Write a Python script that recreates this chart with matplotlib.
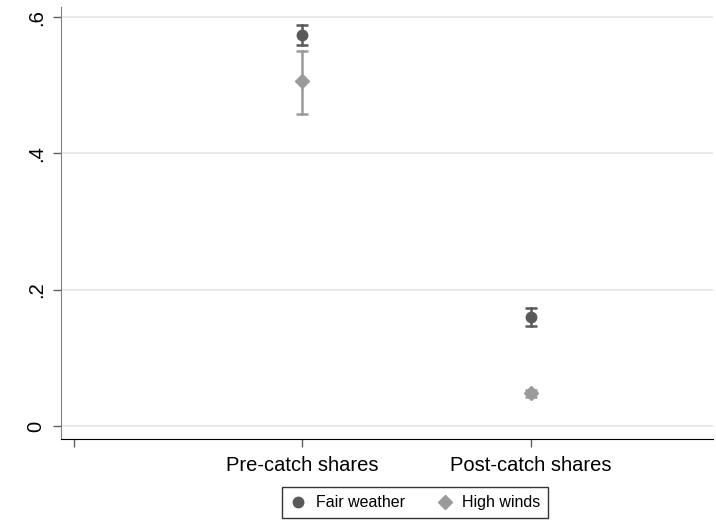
import matplotlib
matplotlib.use("Agg")
import matplotlib.pyplot as plt
from matplotlib.lines import Line2D

plt.rcParams['font.family'] = ['Liberation Sans', 'DejaVu Sans']

categories = ["", "Pre-catch shares", "Post-catch shares"]
groups = ["Pre-catch shares", "Post-catch shares"]
fair_mean = [0.574, 0.1605]
fair_lo = [0.559, 0.147]
fair_hi = [0.588, 0.173]
wind_mean = [0.5055, 0.048]
wind_lo = [0.458, 0.043]
wind_hi = [0.550, 0.053]
yticks = [0, 0.2, 0.4, 0.6]
ytick_labels = ["0", ".2", ".4", ".6"]

fair_color = "#595959"
wind_color = "#9a9a9a"

fig = plt.figure(figsize=(7.16, 5.2), dpi=100)
ax = fig.add_axes([0.0852, 0.1558, 0.911, 0.831])

xpos = [categories.index(g) for g in groups]

for i, x in enumerate(xpos):
    ax.plot([x, x], [wind_lo[i], wind_hi[i]], color=wind_color, lw=1.8, zorder=2)
    ax.plot([x], [wind_lo[i]], marker='_', ms=9, mew=1.8, color=wind_color, zorder=2)
    ax.plot([x], [wind_hi[i]], marker='_', ms=9, mew=1.8, color=wind_color, zorder=2)
    ax.plot([x, x], [fair_lo[i], fair_hi[i]], color=fair_color, lw=1.8, zorder=3)
    ax.plot([x], [fair_lo[i]], marker='_', ms=9, mew=1.8, color=fair_color, zorder=3)
    ax.plot([x], [fair_hi[i]], marker='_', ms=9, mew=1.8, color=fair_color, zorder=3)

ax.plot(xpos, wind_mean, linestyle='none', marker='D', ms=7, color=wind_color, zorder=4)
ax.plot(xpos, fair_mean, linestyle='none', marker='o', ms=7.5, color=fair_color, zorder=5)

ax.set_xlim(-0.057, 2.80)
ax.set_ylim(-0.019, 0.615)
ax.set_xticks(range(len(categories)))
ax.set_xticklabels(categories, fontsize=14.5)
ax.set_yticks(yticks)
ax.set_yticklabels(ytick_labels, fontsize=14.5, rotation=90, va='center')
ax.yaxis.grid(True, color="#e6e6e6", lw=1.2)
ax.set_axisbelow(True)
for s in ['top', 'right']:
    ax.spines[s].set_visible(False)
ax.spines['left'].set_color('#808080')
ax.spines['bottom'].set_color('black')
ax.tick_params(axis='both', color='#606060', length=6, width=1)
ax.tick_params(axis='x', pad=6)
ax.tick_params(axis='y', pad=5)

handles = [Line2D([], [], linestyle='none', marker='o', ms=7.5, color=fair_color),
           Line2D([], [], linestyle='none', marker='D', ms=7, color=wind_color)]
leg = fig.legend(handles, ["Fair weather", "High winds"], loc='center',
                 bbox_to_anchor=(0.58, 0.033), ncol=2, frameon=True, fancybox=False,
                 fontsize=11.5, handlelength=1, handletextpad=0.6, columnspacing=2.0,
                 borderpad=0.5)
leg.get_frame().set_edgecolor('black')
leg.get_frame().set_linewidth(1)

fig.savefig("out.png", dpi=100)
